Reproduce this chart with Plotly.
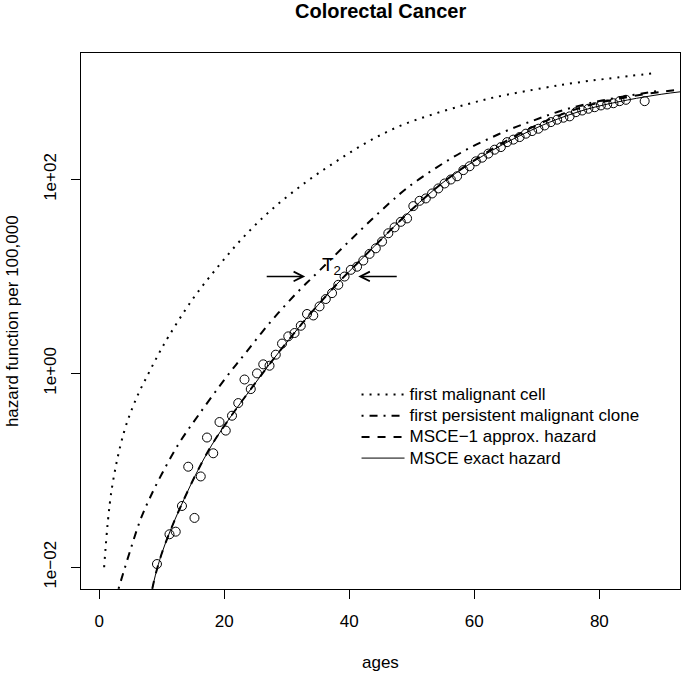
import plotly.graph_objects as go

FONT = "Liberation Sans, Arial, Helvetica, sans-serif"

# ---- observed incidence (circles) ----
obs_age = [9.25, 11.25, 12.25, 13.25, 14.25, 15.25, 16.25, 17.25, 18.25, 19.25,
           20.25, 21.25, 22.25, 23.25, 24.25, 25.25, 26.25, 27.25, 28.25, 29.25,
           30.25, 31.25, 32.25, 33.25, 34.25, 35.25, 36.25, 37.25, 38.25, 39.25,
           40.25, 41.25, 42.25, 43.25, 44.25, 45.25, 46.25, 47.25, 48.25, 49.25,
           50.25, 51.25, 52.25, 53.25, 54.25, 55.25, 56.25, 57.25, 58.25, 59.25,
           60.25, 61.25, 62.25, 63.25, 64.25, 65.25, 66.25, 67.25, 68.25, 69.25,
           70.25, 71.25, 72.25, 73.25, 74.25, 75.25, 76.25, 77.25, 78.25, 79.25,
           80.25, 81.25, 82.25, 83.25, 84.25, 87.25]
obs_rate = [0.0108, 0.0219, 0.0233, 0.0429, 0.109, 0.0323, 0.0865, 0.218, 0.150, 0.315,
            0.257, 0.366, 0.494, 0.865, 0.689, 1.00, 1.24, 1.20, 1.56, 2.03,
            2.41, 2.61, 3.10, 4.10, 3.96, 4.91, 5.85, 6.73, 8.20, 9.98,
            11.7, 12.6, 14.6, 17.1, 19.5, 22.9, 27.9, 32.1, 36.6, 39.7,
            53.2, 60.3, 63.8, 71.8, 80.9, 91.0, 100, 108, 125, 137,
            154, 168, 185, 203, 216, 243, 258, 274, 297, 316,
            334, 361, 391, 414, 434, 448, 495, 515, 537, 557,
            581, 594, 612, 643, 664, 643]

# ---- first malignant cell (dotted) ----
cell_age = [0.8, 2, 4, 6, 7.9, 9.5, 11.1, 15, 19, 23, 27.6, 33, 38, 43, 48.2,
            53.5, 58.8, 63.4, 71.1, 75.9, 81.2, 89.2]
cell_h = [0.010, 0.063, 0.251, 0.562, 1.0, 1.58, 2.40, 5.89, 12.6, 25.1, 49.0,
          93.3, 155, 245, 359, 473, 596, 708, 881, 989, 1096, 1259]

# ---- first persistent malignant clone (dot-dash) ----
clone_age = [3.1, 5, 6.6, 8, 10, 12.8, 15.9, 20.2, 23.4, 27.4, 31.6, 35.4, 41.2,
             46.3, 49.0, 52.2, 55.6, 58.8, 62.3, 65.8, 69.5, 73.0, 76.7, 80.4,
             84.2, 87.6, 89.5]
clone_h = [0.0060, 0.0151, 0.0309, 0.0501, 0.0912, 0.191, 0.372, 0.891, 1.62,
           3.39, 6.76, 11.75, 27.5, 56.2, 79.4, 112, 155, 204, 263, 331, 407,
           490, 575, 653, 724, 785, 822]

# ---- MSCE exact hazard (solid) ----
exact_age = [8.5, 9, 10, 11.4, 13, 15.4, 18, 21, 24.4, 27.6, 31, 34, 38, 41.5, 45,
             50, 55, 60, 66, 72, 78, 84.5, 90, 93]
exact_h = [0.0060, 0.0083, 0.0138, 0.0240, 0.0417, 0.0891, 0.182, 0.355, 0.708,
           1.33, 2.51, 4.28, 8.30, 14.1, 23.7, 49.0, 93.3, 155, 257, 389, 531,
           661, 759, 804]

# ---- MSCE-1 approximate hazard (dashed) ----
approx_age = [8.5, 9, 10, 11.4, 13, 15.4, 18, 21, 24.4, 27.6, 31, 34, 38, 41.5, 45,
              50, 55, 60, 66, 72, 78, 84.5, 90, 93]
approx_h = [0.0060, 0.0083, 0.0138, 0.0240, 0.0417, 0.0891, 0.182, 0.355, 0.708,
            1.33, 2.51, 4.28, 8.30, 14.1, 23.7, 49.0, 93.3, 158, 269, 417, 575,
            708, 804, 851]

x_ticks = [0, 20, 40, 60, 80]
y_ticks = [0.01, 1, 100]
y_ticktext = ["1e\u221202", "1e+00", "1e+02"]

LEG = '<span style="font-size:17px">{}</span>'

fig = go.Figure()
fig.add_trace(go.Scatter(x=cell_age, y=cell_h, mode="lines",
                         name=LEG.format("first malignant cell"),
                         line=dict(color="black", width=2, dash="2px,6px", shape="spline")))
fig.add_trace(go.Scatter(x=clone_age, y=clone_h, mode="lines",
                         name=LEG.format("first persistent malignant clone"),
                         line=dict(color="black", width=2, dash="2px,6px,8px,6px",
                                   shape="spline")))
fig.add_trace(go.Scatter(x=approx_age, y=approx_h, mode="lines",
                         name=LEG.format("MSCE\u22121 approx. hazard"),
                         line=dict(color="black", width=2, dash="8px,8px", shape="spline")))
fig.add_trace(go.Scatter(x=exact_age, y=exact_h, mode="lines",
                         name=LEG.format("MSCE exact hazard"),
                         line=dict(color="black", width=1, shape="spline")))
fig.add_trace(go.Scatter(x=obs_age, y=obs_rate, mode="markers", showlegend=False,
                         marker=dict(symbol="circle-open", size=9, color="black",
                                     line=dict(width=1, color="black"))))

axis_common = dict(showline=True, mirror=True, linecolor="black", linewidth=1,
                   ticks="outside", ticklen=9, tickwidth=1, tickcolor="black",
                   showgrid=False, zeroline=False,
                   tickfont=dict(family=FONT, size=17, color="black"))

fig.update_layout(
    width=685, height=675,
    margin=dict(l=81, r=5, t=53, b=86),
    paper_bgcolor="white", plot_bgcolor="white",
    font=dict(family=FONT, size=17, color="black"),
    showlegend=True,
    hovermode=False,
    legend=dict(x=0.46, y=0.392, xanchor="left", yanchor="top",
                bgcolor="rgba(0,0,0,0)", borderwidth=0, itemwidth=43,
                font=dict(family=FONT, size=14, color="black")),
    xaxis=dict(range=[-2.9, 92.9], tickmode="array", tickvals=x_ticks,
               ticklabelstandoff=8, **axis_common),
    yaxis=dict(type="log", range=[-2.224, 3.305], tickmode="array",
               tickvals=y_ticks, ticktext=y_ticktext, tickangle=-90,
               ticklabelstandoff=8, **axis_common),
    annotations=[
        dict(text="<b>Colorectal Cancer</b>", xref="paper", yref="paper", x=0.5, y=1.078,
             xanchor="center", yanchor="middle", showarrow=False,
             font=dict(family=FONT, size=20, color="black")),
        dict(text="ages", xref="paper", yref="paper", x=0.5, y=-0.138,
             xanchor="center", yanchor="middle", showarrow=False,
             font=dict(family=FONT, size=17, color="black")),
        dict(text="hazard function per 100,000", xref="paper", yref="paper",
             x=-0.115, y=0.5, xanchor="center", yanchor="middle", textangle=-90,
             showarrow=False, font=dict(family=FONT, size=17, color="black")),
        dict(text="T<sub>2</sub>", xref="x", yref="y", x=37.1, y=1.106,
             showarrow=False, font=dict(family=FONT, size=19, color="black")),
        dict(text="", xref="x", yref="y", x=32.96, y=1.0, ax=-40, ay=0,
             showarrow=True, arrowhead=5, arrowsize=1.25, arrowwidth=1.5,
             arrowcolor="black", standoff=0),
        dict(text="", xref="x", yref="y", x=41.44, y=1.0, ax=40, ay=0,
             showarrow=True, arrowhead=5, arrowsize=1.25, arrowwidth=1.5,
             arrowcolor="black", standoff=0),
    ],
)

fig.write_html("out.html",
               config={"displayModeBar": False, "staticPlot": True},
               post_script="document.body.style.margin='0px';document.body.style.padding='0px';")
